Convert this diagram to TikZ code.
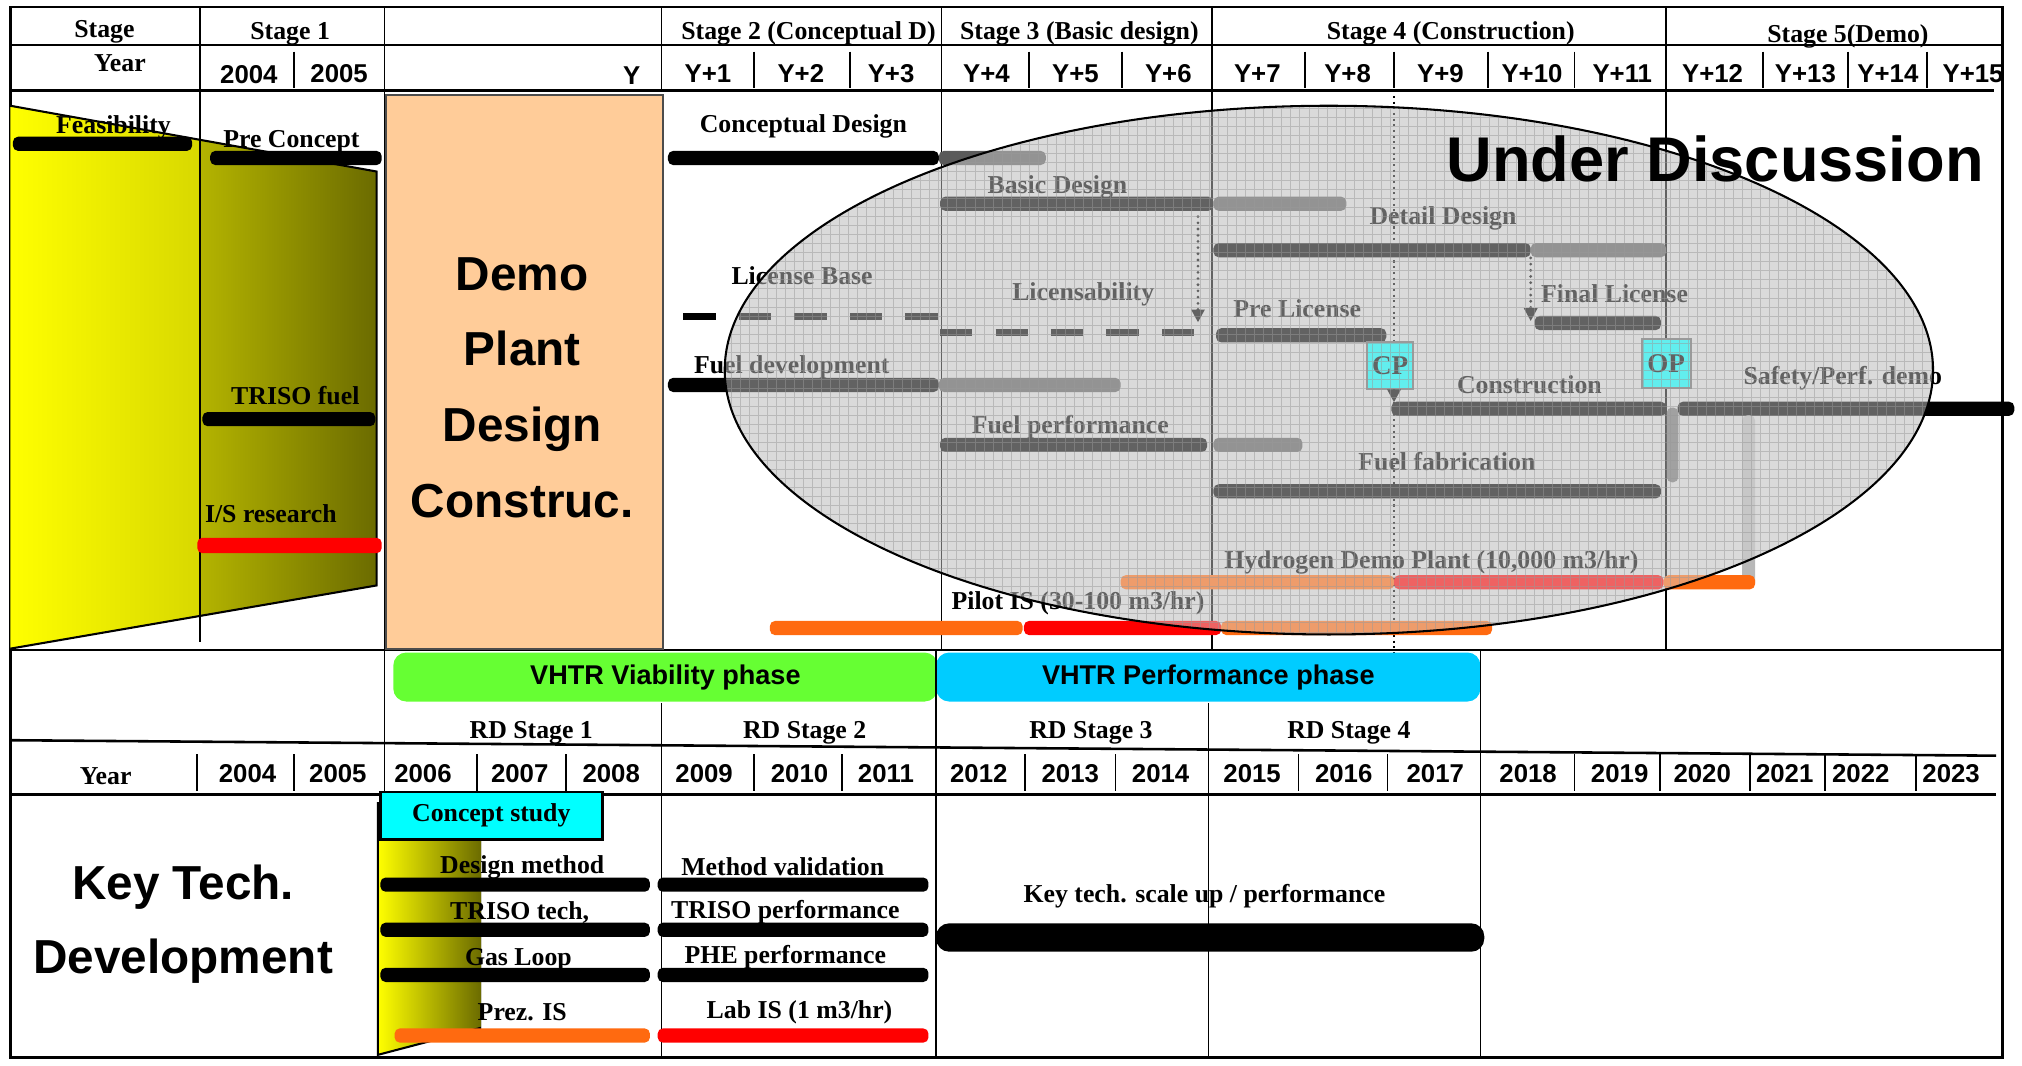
\documentclass[tikz,border=0pt]{standalone}
\usepackage{fontspec}
\setmainfont{Liberation Serif}
\setsansfont{Liberation Sans}
\usetikzlibrary{arrows.meta}
\definecolor{peach}{HTML}{FFCC99}
\definecolor{vgreen}{HTML}{66FF33}
\definecolor{vblue}{HTML}{00CCFF}
\definecolor{aqua}{HTML}{00FFFF}
\definecolor{ellbg}{HTML}{DADADA}
\definecolor{oran}{HTML}{FF6A10}
\definecolor{olv}{HTML}{6B6B00}
\definecolor{midgray}{HTML}{5A5A5A}
\newcommand\gbar[5][black]{\fill[#1,rounded corners=2pt] (#2,{#4-#5/2}) rectangle (#3,{#4+#5/2});}
\begin{document}
\begin{tikzpicture}[x=0.5pt,y=-0.5pt,
  lbl/.style={font=\bfseries\fontsize{10}{12}\selectfont, inner sep=0pt, yshift=-1pt},
  yr/.style={font=\sffamily\bfseries\fontsize{10}{12}\selectfont, inner sep=0pt},
  bigs/.style={font=\sffamily\bfseries\fontsize{18.5}{29.3}\selectfont, inner sep=0pt, align=center},
  frame/.style={line width=1pt},
  col/.style={line width=0.6pt},
  tick/.style={line width=0.7pt},
  darrow/.style={line width=1.2pt, dash pattern=on 0pt off 2.4pt, line cap=round, -{Triangle[length=5pt,width=5pt]}},
  milestone/.style={lbl, yshift=1pt, fill=aqua, draw=black!60, line width=0.8pt, minimum width=18pt, minimum height=18.5pt, font=\bfseries\fontsize{10.5}{12}\selectfont},
  phase/.style={font=\sffamily\bfseries\fontsize{10.5}{12}\selectfont, rounded corners=5pt, minimum width=211pt, minimum height=19pt, inner sep=0pt}
]
\useasboundingbox (0,0) rectangle (1568,826);
\fill[white] (0,0) rectangle (1568,826);
\coordinate (ec) at (1030.5,287);
\fill[ellbg] (ec) ellipse [x radius=468.5, y radius=205];

% ---------- top table ----------
\draw[frame] (8,5.5) rectangle (1553,820);
\draw[frame] (8,35) -- (1553,35);
\draw[frame] (8,70) -- (1546,70);
\draw[frame] (8,504) -- (1553,504);
\draw[col] (155,5.5) -- (155,498);
\draw[col] (298,5.5) -- (298,615);
\draw[col] (513,5.5) -- (513,70);
\draw[col] (730,5.5) -- (730,504);
\draw[col] (940,5.5) -- (940,504);
\draw[col] (1292,5.5) -- (1292,504);
\foreach \x in {228,585,659,798,870,1012,1081,1154,1221,1367,1433,1494}
  \draw[tick] (\x,40) -- (\x,68);
\draw[line width=0.6pt, dash pattern=on 0.8pt off 1.4pt] (1081,70) -- (1081,510);

\node[lbl] (hstage) at (81,23) {Stage};
\node[lbl] (hyear) at (93,47) {Year};
\node[lbl] (s1) at (225,24) {Stage 1};
\node[lbl] (s2) at (627,24) {Stage 2 (Conceptual D)};
\node[lbl] (s3) at (837,24) {Stage 3 (Basic design)};
\node[lbl] (s4) at (1125,24) {Stage 4 (Construction)};
\node[lbl] (s5) at (1433,26) {Stage 5(Demo)};
\node[yr] (t2004) at (193,58) {2004};
\node[yr] (t2005) at (263,57) {2005};
\node[yr, anchor=east] (tY) at (497,59) {Y};
\foreach \x/\t [count=\i] in {549/Y+1,621/Y+2,691/Y+3,765/Y+4,834/Y+5,906/Y+6,975/Y+7,1045/Y+8,1117/Y+9,1188/Y+10,1258/Y+11,1328/Y+12,1400/Y+13,1464/Y+14,1530/Y+15}
  \node[yr] (ty\i) at (\x,57) {\t};

% ---------- stage 1 trapezoid ----------
\fill[left color=yellow, right color={rgb,255:red,216;green,216;blue,0}] (8,82) -- (155,108.4) -- (155,477.6) -- (8,503) -- cycle;
\fill[left color={rgb,255:red,180;green,180;blue,0}, right color=olv] (155,108.4) -- (292,133) -- (292,454) -- (155,477.6) -- cycle;
\draw[line width=0.8pt] (8,82) -- (292,133) -- (292,454) -- (8,503);
\draw[col] (155,70) -- (155,498);

\node[lbl] (feas) at (88,97) {Feasibility};
\gbar{10}{149}{111.5}{11}
\node[lbl] (prec) at (226,108) {Pre Concept};
\gbar{163}{296}{122.5}{11}
\node[lbl] (triso) at (229,305) {TRISO fuel};
\gbar{157}{291}{325}{11}
\node[lbl] (isr) at (210,396) {I/S research};
\gbar[red]{153}{296}{423}{12}

% ---------- demo plant box ----------
\draw[fill=peach, draw=black!70, line width=0.8pt] (299,73.5) rectangle (514,503);
\node[bigs] (demo) at (405,300.5) {Demo\\Plant\\Design\\Construc.};

% ---------- stage 2..5 items ----------
\node[lbl] (cd) at (623,96) {Conceptual Design};
\gbar{518}{728}{122.5}{11}
\gbar[midgray]{728}{811}{122.5}{11}

\node[lbl] (bd) at (820,143) {Basic Design};
\gbar{729}{941}{158}{11}
\gbar[midgray]{941}{1044}{158}{11}

\node[lbl] (dd) at (1119,167) {Detail Design};
\gbar{941}{1187}{194}{11}
\gbar[midgray]{1187}{1292}{194}{11}

\node[lbl] (lb) at (622,212) {License Base};
\draw[line width=2.6pt, dash pattern=on 12.5pt off 9pt] (530,245.5) -- (727,245.5);

\node[lbl] (lic) at (840,226) {Licensability};
\draw[line width=2.6pt, dash pattern=on 12.5pt off 9pt] (729,258) -- (927,258);

\node[lbl] (pl) at (1006,237) {Pre License};
\gbar{943}{1075}{260}{11}
\coordinate (a1s) at (929,168);
\coordinate (a1e) at (929,250);
\draw[darrow] (a1s) -- (a1e);

\node[lbl] (fl) at (1252,226) {Final License};
\gbar{1190}{1288}{250.5}{11}
\coordinate (a2s) at (1187,200);
\coordinate (a2e) at (1187,249);
\draw[darrow] (a2s) -- (a2e);

\node[lbl] (fd) at (614,283) {Fuel development};
\gbar{518}{728}{298.5}{11}
\gbar[midgray]{728}{869}{298.5}{11}

\node[lbl] (fp) at (830,329) {Fuel performance};
\gbar{729}{936}{345}{11}
\gbar[midgray]{941}{1010}{345}{11}

\node[milestone] (cp) at (1078,283.5) {CP};
\coordinate (cpend) at (1081,312);
\draw[darrow] (cp.south -| cpend) -- (cpend);
\node[milestone, minimum width=19pt, minimum height=19pt] (op) at (1292,282) {OP};

\node[lbl] (con) at (1186,296) {Construction};
\gbar{1079}{1292}{317}{11}
\node[lbl] (spd) at (1429,291) {Safety/Perf. demo};
\gbar{1301}{1562}{317}{11}
\fill[black!55, rounded corners=2pt] (1292.5,316) rectangle (1301.5,374);
\fill[black!28, rounded corners=2pt] (1351,322) rectangle (1361,456);

\node[lbl] (ff) at (1122,356) {Fuel fabrication};
\gbar{941}{1288}{381}{11}

\node[lbl] (hdp) at (1110,434) {Hydrogen Demo Plant (10,000 m3/hr)};
\gbar[oran]{869}{1081}{451.5}{11}
\gbar[red]{1081}{1290}{451.5}{11}
\gbar[oran]{1290}{1361}{451.5}{11}

\node[lbl] (pis) at (836,466) {Pilot IS (30-100 m3/hr)};
\gbar[oran]{597}{793}{487}{11}
\gbar[red]{794}{947}{487}{11}
\gbar[oran]{947}{1157}{487}{11}

% ---------- under discussion overlay ----------
\begin{scope}
\clip (ec) ellipse [x radius=468.5, y radius=205];
\fill[ellbg, opacity=0.45] (555,500) rectangle (1505,75);
\draw[black!40, opacity=0.5, line width=0.3pt, step=3.5pt] (555,500) grid (1505,75);
\end{scope}
\draw[line width=0.8pt] (ec) ellipse [x radius=468.5, y radius=205];
\node[font=\sffamily\bfseries\fontsize{24.5}{28}\selectfont, inner sep=0pt] (ud) at (1330,123) {Under Discussion};

% ---------- lower section ----------
\node[phase, fill=vgreen] (via) at (516,525) {VHTR Viability phase};
\node[phase, fill=vblue] (perf) at (937,525) {VHTR Performance phase};

\draw[frame] (8,574) -- (1548,586);
\draw[frame] (8,616) -- (1548,616);
\draw[col] (513,545) -- (513,820);
\draw[col] (726,505) -- (726,820);
\draw[col] (937,545) -- (937,820);
\draw[col] (1148,504) -- (1148,820);
\foreach \x in {153,228,370,439,585,653,795,865,1007,1076,1221,1287,1357,1415,1486}
  \draw[tick] (\x,585) -- (\x,613);

\node[lbl] (rd1) at (412,566) {RD Stage 1};
\node[lbl] (rd2) at (624,566) {RD Stage 2};
\node[lbl] (rd3) at (846,566) {RD Stage 3};
\node[lbl] (rd4) at (1046,566) {RD Stage 4};

\node[lbl] (lyear) at (82,600) {Year};
\foreach \x/\t in {192/2004,262/2005,328/2006,403/2007,474/2008,546/2009,620/2010,687/2011,759/2012,830/2013,900/2014,971/2015,1042/2016,1113/2017,1185/2018,1256/2019,1320/2020,1384/2021,1443/2022,1513/2023}
  \node[yr] (ly\t) at (\x,600) {\t};

% yellow gradient shape
\fill[left color=yellow, right color=olv] (293,640) -- (373,640) -- (373,797) -- (293,818) -- cycle;
\draw[line width=0.8pt] (293,622) -- (293,818) -- (373,797);
\node[lbl, yshift=1pt, fill=aqua, draw=black, line width=1pt, minimum width=86pt, minimum height=18.5pt] (cs) at (381,632.5) {Concept study};

\node[lbl] (dm) at (405,671) {Design method};
\gbar{295}{504}{686}{11}
\node[lbl] (tt) at (403,706) {TRISO tech,};
\gbar{295}{504}{721}{11}
\node[lbl] (gl) at (402,742) {Gas Loop};
\gbar{295}{504}{756}{11}
\node[lbl] (pz) at (405,783) {Prez. IS};
\gbar[oran]{306}{504}{803}{11}

\node[lbl] (mv) at (607,670) {Method validation};
\gbar{510}{720}{686}{11}
\node[lbl] (tp) at (609,705) {TRISO performance};
\gbar{510}{720}{721}{11}
\node[lbl] (phe) at (609,740) {PHE performance};
\gbar{510}{720}{756}{11}
\node[lbl] (lab) at (620,783) {Lab IS (1 m3/hr)};
\gbar[red]{510}{720}{803}{11}

\node[lbl] (kts) at (934,693) {Key tech. scale up / performance};
\fill[black, rounded corners=5pt] (726,716) rectangle (1151,738);

\node[bigs] (kt1) at (142,688) {Key Tech.};
\node[bigs] (kt2) at (142,745) {Development};
\end{tikzpicture}
\end{document}
